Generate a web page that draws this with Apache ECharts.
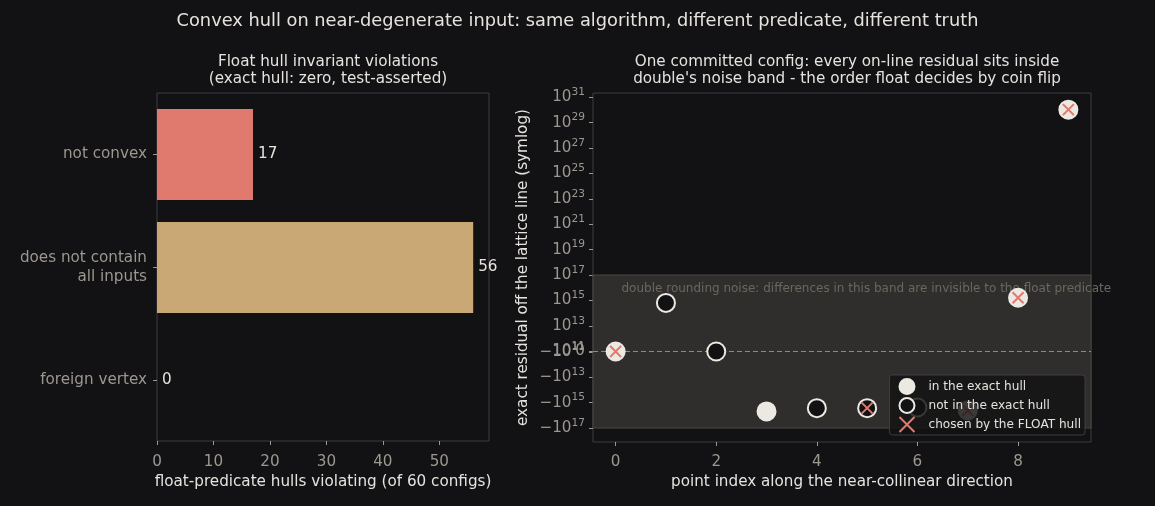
<!DOCTYPE html>
<html>
<head>
<meta charset="utf-8">
<script src="https://cdn.jsdelivr.net/npm/echarts@6/dist/echarts.min.js"></script>
<style>
html,body{margin:0;padding:0;background:#121214;}
#chart{width:1155px;height:506px;}
</style>
</head>
<body>
<div id="chart"></div>
<script>
// ---- data ----
const barCategories = ['not convex', 'does not contain\nall inputs', 'foreign vertex'];
const barValues = [17, 56, 0];
const barColors = ['#e07a6e', '#c9a876', '#8fb3c9'];
const barTicks = [0, 10, 20, 30, 40, 50];

const pointIndex = [0, 1, 2, 3, 4, 5, 6, 7, 8, 9];
const residual = [0, 6.3e14, 0, -4.9e15, -2.7e15, -2.7e15, -2.4e15, -4.1e15, 1.6e15, 1.07e30];
const inExactHull = [true, false, false, true, false, false, false, true, true, true];
const chosenByFloat = [true, false, false, false, false, true, false, true, true, true];
const noiseBand = [-1e17, 1e17];
const residualTicks = [-1e17, -1e15, -1e13, -1e11, 0, 1e11, 1e13, 1e15, 1e17, 1e19, 1e21, 1e23, 1e25, 1e27, 1e29, 1e31];
const indexTicks = [0, 2, 4, 6, 8];

// ---- symlog transform (decades beyond linthresh) ----
const LINTHRESH = 1e11, LINW = 0.03;
function symlog(v) {
  const a = Math.abs(v);
  if (a <= LINTHRESH) return v / LINTHRESH * LINW;
  return Math.sign(v) * (Math.log10(a / LINTHRESH) + LINW);
}
const tickLabel = {};
residualTicks.forEach(v => {
  let s;
  if (v === 0) s = '{b|0}';
  else {
    const e = Math.round(Math.log10(Math.abs(v)));
    s = '{b|' + (v < 0 ? '\u221210' : '10') + '}{s|' + e + '}';
  }
  tickLabel[symlog(v).toFixed(3)] = s;
});

const FONT = 'DejaVu Sans';
const FS = 15.2;
const TICKC = '#9c978f';
const TEXTC = '#e6e3de';
const SPINE = '#3d3d42';

const hullData = [], notHullData = [], floatData = [];
pointIndex.forEach((i, k) => {
  const p = [i, symlog(residual[k])];
  (inExactHull[k] ? hullData : notHullData).push(p);
  if (chosenByFloat[k]) floatData.push(p);
});

const chart = echarts.init(document.getElementById('chart'), null, {renderer: 'canvas'});
const option = {
  backgroundColor: '#121214',
  animation: false,
  textStyle: {fontFamily: FONT},
  title: [
    {text: 'Convex hull on near-degenerate input: same algorithm, different predicate, different truth',
     left: 'center', top: 7, textStyle: {color: TEXTC, fontSize: 17.8, fontWeight: 'normal', fontFamily: FONT}},
    {text: 'Float hull invariant violations\n(exact hull: zero, test-asserted)',
     left: 323, top: 48, textAlign: 'center',
     textStyle: {color: TEXTC, fontSize: FS, fontWeight: 'normal', lineHeight: 17.5, fontFamily: FONT}},
    {text: "One committed config: every on-line residual sits inside\ndouble's noise band - the order float decides by coin flip",
     left: 842, top: 48, textAlign: 'center',
     textStyle: {color: TEXTC, fontSize: FS, fontWeight: 'normal', lineHeight: 17.5, fontFamily: FONT}}
  ],
  grid: [
    // bar panel (category bands placed like the reference), frame drawn by grid 2
    {left: 157, top: 98, width: 332, height: 339, show: false},
    {left: 593, top: 93, width: 498, height: 349, show: true, borderColor: SPINE, borderWidth: 1, backgroundColor: 'transparent'},
    {left: 157, top: 93, width: 332, height: 348, show: true, borderColor: SPINE, borderWidth: 1, backgroundColor: 'transparent'}
  ],
  xAxis: [
    {gridIndex: 0, type: 'value', min: 0, max: 58.8, offset: 4,
     name: 'float-predicate hulls violating (of 60 configs)', nameLocation: 'middle', nameGap: 32,
     nameTextStyle: {color: TEXTC, fontSize: FS, fontFamily: FONT},
     splitLine: {show: false},
     axisLine: {show: false, onZero: false},
     axisTick: {show: true, length: 4, lineStyle: {color: TICKC}, customValues: barTicks},
     axisLabel: {color: TICKC, fontSize: FS, margin: 14, fontFamily: FONT, customValues: barTicks}},
    {gridIndex: 1, type: 'value', min: -0.45, max: 9.45,
     name: 'point index along the near-collinear direction', nameLocation: 'middle', nameGap: 33,
     nameTextStyle: {color: TEXTC, fontSize: FS, fontFamily: FONT},
     splitLine: {show: false},
     axisLine: {show: false, onZero: false},
     axisTick: {show: true, length: 4, lineStyle: {color: TICKC}, customValues: indexTicks},
     axisLabel: {color: TICKC, fontSize: FS, margin: 13, fontFamily: FONT, customValues: indexTicks}},
    {gridIndex: 2, type: 'value', min: 0, max: 1, show: false}
  ],
  yAxis: [
    {gridIndex: 0, type: 'category', data: barCategories, inverse: true,
     axisLine: {show: false, onZero: false},
     axisTick: {show: true, alignWithLabel: true, length: 4, lineStyle: {color: TICKC}},
     axisLabel: {color: TICKC, fontSize: FS, margin: 10, lineHeight: 19, align: 'right', fontFamily: FONT, padding: [5, 0, 0, 0]},
     splitLine: {show: false}},
    {gridIndex: 1, type: 'value', min: -7.13, max: 20.37,
     name: 'exact residual off the lattice line (symlog)', nameLocation: 'middle', nameGap: 62,
     nameTextStyle: {color: TEXTC, fontSize: FS, fontFamily: FONT},
     axisLine: {show: false, onZero: false},
     splitLine: {show: false},
     axisTick: {show: true, length: 4, lineStyle: {color: TICKC}, customValues: residualTicks.map(symlog)},
     axisLabel: {color: TICKC, margin: 8, fontFamily: FONT,
       customValues: residualTicks.map(symlog),
       formatter: v => tickLabel[Number(v).toFixed(3)] || '',
       rich: {
         b: {fontSize: FS, color: TICKC, fontFamily: FONT},
         s: {fontSize: 10.6, color: TICKC, fontFamily: FONT, padding: [0, 0, 10, 0]}
       }}},
    {gridIndex: 2, type: 'value', min: 0, max: 1, show: false}
  ],
  legend: {
    orient: 'vertical', right: 70, bottom: 71, z: 20,
    backgroundColor: 'rgba(18,18,20,0.82)', borderColor: '#3d3d42', borderWidth: 1, borderRadius: 3,
    padding: [3, 4, 2, 9], itemGap: 2, itemWidth: 15, itemHeight: 15,
    textStyle: {color: TEXTC, fontSize: 12.1, fontFamily: FONT, padding: [0, 0, 0, 9]},
    data: ['in the exact hull', 'not in the exact hull', 'chosen by the FLOAT hull']
  },
  series: [
    {type: 'bar', xAxisIndex: 0, yAxisIndex: 0, barWidth: 91,
     data: barValues.map((v, i) => ({value: v, itemStyle: {color: barColors[i]}})),
     label: {show: true, position: 'right', distance: 5, color: TEXTC, fontSize: FS, fontFamily: FONT}},
    {type: 'scatter', name: 'noise band', xAxisIndex: 1, yAxisIndex: 1, z: 1,
     symbolSize: 0, data: [],
     markArea: {silent: true,
       itemStyle: {color: '#302e2c', borderColor: '#4a4844', borderWidth: 1},
       label: {show: true, position: 'insideTopLeft', distance: 0, offset: [29, 8],
               color: '#6b6760', fontSize: 12, fontFamily: FONT,
               formatter: 'double rounding noise: differences in this band are invisible to the float predicate'},
       data: [[{yAxis: symlog(noiseBand[1])}, {yAxis: symlog(noiseBand[0])}]]},
     markLine: {silent: true, symbol: 'none', label: {show: false},
       lineStyle: {color: '#8f8a83', type: [5, 3], width: 1.2},
       data: [{yAxis: 0}]}},
    {type: 'scatter', name: 'in the exact hull', xAxisIndex: 1, yAxisIndex: 1,
     symbol: 'circle', symbolSize: 18, z: 5,
     itemStyle: {color: '#ece9e2', borderColor: '#ece9e2', borderWidth: 2, opacity: 1},
     data: hullData},
    {type: 'scatter', name: 'not in the exact hull', xAxisIndex: 1, yAxisIndex: 1,
     symbol: 'circle', symbolSize: 18, z: 5,
     itemStyle: {color: '#121214', borderColor: '#ece9e2', borderWidth: 2, opacity: 1},
     data: notHullData},
    {type: 'scatter', name: 'chosen by the FLOAT hull', xAxisIndex: 1, yAxisIndex: 1,
     symbol: 'path://M0,0L10,10M10,0L0,10', symbolSize: 11, z: 6,
     itemStyle: {color: 'rgba(0,0,0,0)', borderColor: '#e07a6e', borderWidth: 2, opacity: 1},
     data: floatData}
  ]
};
chart.setOption(option);
</script>
</body>
</html>
